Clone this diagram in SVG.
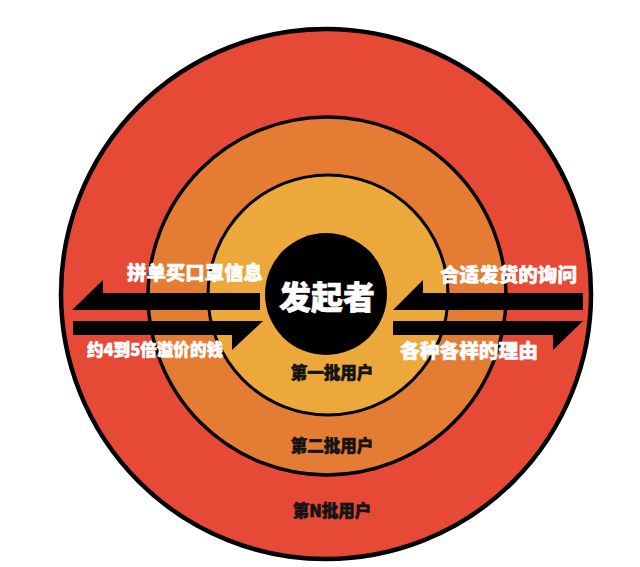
<svg xmlns="http://www.w3.org/2000/svg" width="640" height="567" viewBox="0 0 640 567">
  <style>
    .ring { stroke: #000; }
    .lbl { font-family: "Noto Sans CJK SC", "Noto Sans", sans-serif; font-weight: 900; stroke-width: 0.6; stroke-linejoin: round; }
    .white { fill: #ffffff; stroke: #ffffff; }
    .dark { fill: #141414; stroke: #141414; }
    .arrow { fill: #000; }
  </style>
  <rect x="0" y="0" width="640" height="567" fill="#ffffff"/>
  <g id="ring-n">
    <circle class="ring" cx="326" cy="294" r="265" fill="#E64A37" stroke-width="4.5"/>
    <text class="lbl dark" x="332" y="517" font-size="16.5" text-anchor="middle">第N批用户</text>
  </g>
  <g id="ring-2">
    <circle class="ring" cx="327" cy="296" r="179" fill="#E57C34" stroke-width="3.5"/>
    <text class="lbl dark" x="332" y="452" font-size="16.5" text-anchor="middle">第二批用户</text>
  </g>
  <g id="ring-1">
    <circle class="ring" cx="328" cy="295" r="120" fill="#EDA83C" stroke-width="3"/>
    <text class="lbl dark" x="332" y="379" font-size="16.5" text-anchor="middle">第一批用户</text>
  </g>
  <g id="initiator">
    <circle cx="326" cy="294" r="61" fill="#000"/>
    <text class="lbl white" x="327" y="309" font-size="32" text-anchor="middle">发起者</text>
  </g>
  <g id="connectors">
    <polygon class="arrow" points="260,293 103,293 103,280 72,310 260,310"/>
    <polygon class="arrow" points="73,321 263,321 232,350 232,335 73,335"/>
    <polygon class="arrow" points="583,293 423,293 423,280 393,310 583,310"/>
    <polygon class="arrow" points="393,321 583,321 553,350 553,335 393,335"/>
  </g>
  <g id="labels">
    <text class="lbl white" x="127" y="280" font-size="19" textLength="136" lengthAdjust="spacingAndGlyphs">拼单买口罩信息</text>
    <text class="lbl white" x="87" y="356" font-size="17" textLength="136" lengthAdjust="spacingAndGlyphs">约4到5倍溢价的钱</text>
    <text class="lbl white" x="440" y="282" font-size="19" textLength="137" lengthAdjust="spacingAndGlyphs">合适发货的询问</text>
    <text class="lbl white" x="400" y="358" font-size="19" textLength="138" lengthAdjust="spacingAndGlyphs">各种各样的理由</text>
  </g>
</svg>
